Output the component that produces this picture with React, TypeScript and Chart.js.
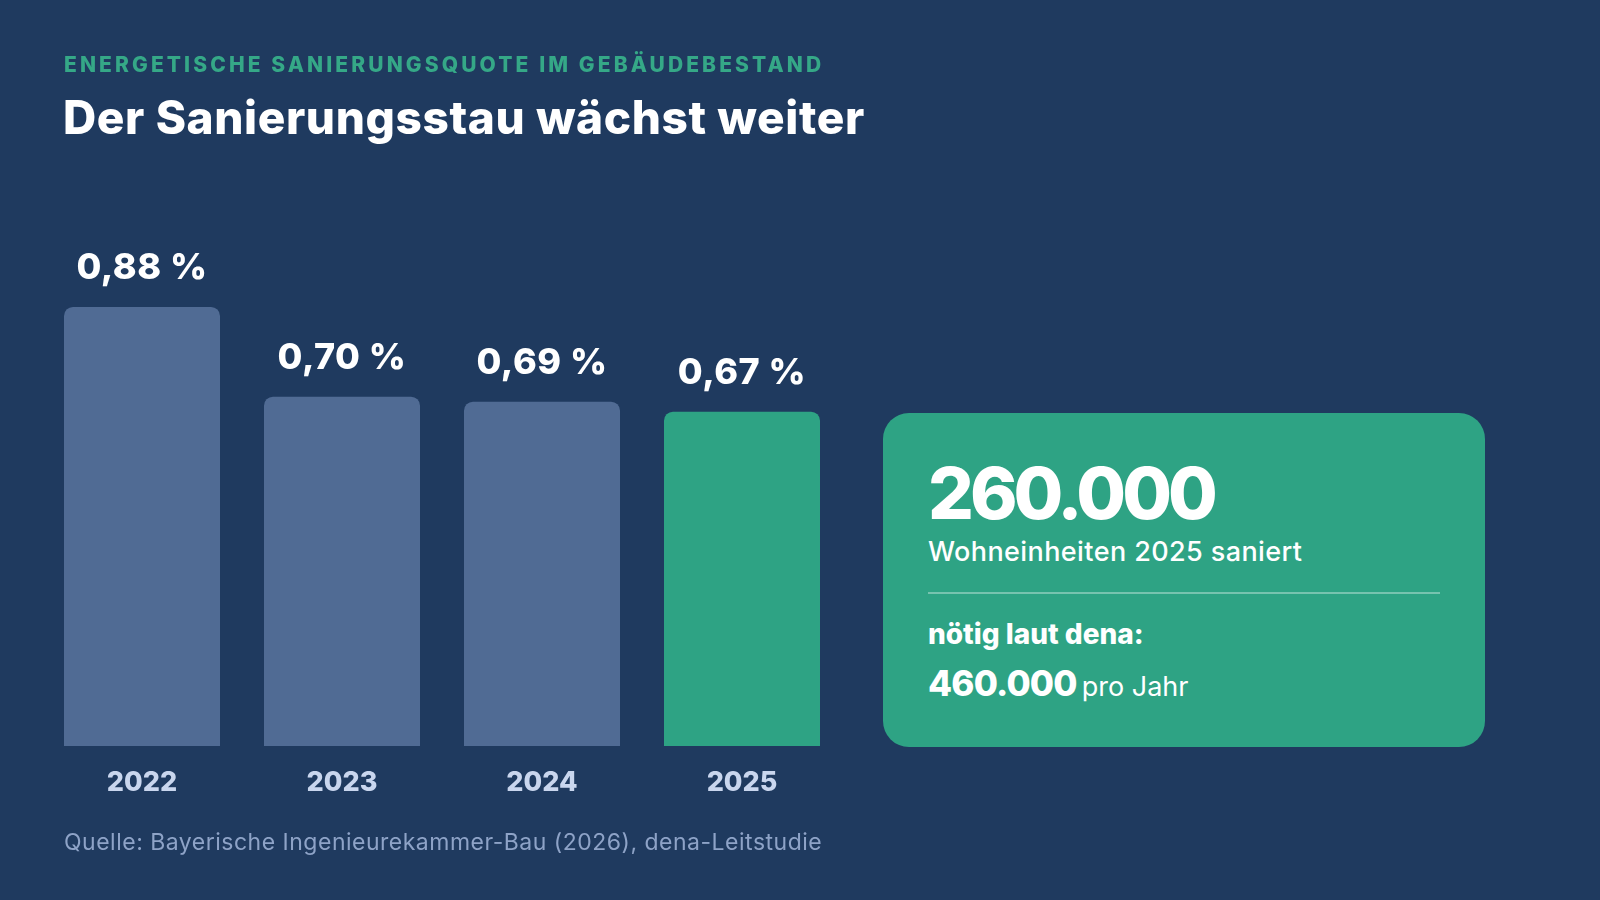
import React, { useEffect, useRef } from "react";
import { Chart, registerables } from "chart.js";

Chart.register(...registerables);

const years = ["2022", "2023", "2024", "2025"];
const quote = [0.88, 0.7, 0.69, 0.67];
const barColors = ["#506b94", "#506b94", "#506b94", "#2ea384"];

const subtitle = "ENERGETISCHE SANIERUNGSQUOTE IM GEBÄUDEBESTAND";
const title = "Der Sanierungsstau wächst weiter";
const source = "Quelle: Bayerische Ingenieurekammer-Bau (2026), dena-Leitstudie";
const cardBig = "260.000";
const cardBigLabel = "Wohneinheiten 2025 saniert";
const cardNeedLabel = "nötig laut dena:";
const cardNeedValue = "460.000";
const cardNeedUnit = "pro Jahr";

const FONT = "Inter, 'Open Sans', sans-serif";

const labelPlugin = {
  id: "labels",
  afterDatasetsDraw(chart: any) {
    const { ctx } = chart;
    const meta = chart.getDatasetMeta(0);
    const xs = chart.scales.x;
    const ys = chart.scales.y;
    ctx.save();
    ctx.textAlign = "center";
    meta.data.forEach((bar: any, i: number) => {
      const x = xs.getPixelForValue(i);
      const top = ys.getPixelForValue(quote[i]);
      ctx.fillStyle = "#ffffff";
      ctx.font = `800 36px ${FONT}`;
      (ctx as any).letterSpacing = "0.5px";
      ctx.textBaseline = "alphabetic";
      ctx.fillText(quote[i].toFixed(2).replace(".", ",") + " %", x, top - 28);
      (ctx as any).letterSpacing = "0px";
      ctx.fillStyle = "#c9d6ee";
      ctx.font = `800 27px ${FONT}`;
      ctx.textBaseline = "middle";
      ctx.fillText(years[i], x, ys.getPixelForValue(0) + 37);
    });
    ctx.restore();
  },
};

export default function App() {
  const ref = useRef<HTMLCanvasElement>(null);
  useEffect(() => {
    document.body.style.margin = "0";
    const chart = new Chart(ref.current!, {
      type: "bar",
      data: {
        labels: years,
        datasets: [
          {
            data: quote,
            backgroundColor: barColors,
            borderRadius: 9,
            categoryPercentage: 1,
            barPercentage: 0.78,
          },
        ],
      },
      options: {
        animation: false,
        responsive: false,
        maintainAspectRatio: false,
        layout: { padding: { left: 42, right: 758, top: 247, bottom: 154 } },
        plugins: { legend: { display: false }, tooltip: { enabled: false } },
        scales: {
          x: { display: false },
          y: { display: false, min: 0, max: 1 },
        },
      },
      plugins: [labelPlugin],
    });
    return () => chart.destroy();
  }, []);

  return (
    <div
      style={{
        position: "relative",
        width: 1600,
        height: 900,
        background: "#1f3a5f",
        overflow: "hidden",
        fontFamily: FONT,
      }}
    >
      <canvas ref={ref} width={1600} height={900} style={{ position: "absolute", left: 0, top: 0 }} />
      <div
        style={{
          position: "absolute",
          left: 64,
          top: 52,
          fontSize: 21,
          fontWeight: 800,
          letterSpacing: 3.1,
          color: "#35a887",
          whiteSpace: "nowrap",
        }}
      >
        {subtitle}
      </div>
      <div
        style={{
          position: "absolute",
          left: 63,
          top: 89,
          fontSize: 46,
          fontWeight: 800,
          letterSpacing: 0.6,
          color: "#ffffff",
          whiteSpace: "nowrap",
        }}
      >
        {title}
      </div>
      <div
        style={{
          position: "absolute",
          left: 64,
          top: 828,
          fontSize: 23,
          fontWeight: 400,
          letterSpacing: 0.5,
          color: "#8ea3c7",
          whiteSpace: "nowrap",
        }}
      >
        {source}
      </div>
      <div
        style={{
          position: "absolute",
          left: 883,
          top: 413,
          width: 602,
          height: 334,
          borderRadius: 26,
          background: "#2ea384",
          color: "#ffffff",
        }}
      >
        <div style={{ position: "absolute", left: 45, top: 40, fontSize: 72, fontWeight: 800, letterSpacing: -4, lineHeight: "80px" }}>
          {cardBig}
        </div>
        <div style={{ position: "absolute", left: 45, top: 122, fontSize: 27, fontWeight: 500, letterSpacing: 0.4, lineHeight: "34px", whiteSpace: "nowrap" }}>
          {cardBigLabel}
        </div>
        <div style={{ position: "absolute", left: 45, top: 179, width: 512, height: 1.5, background: "rgba(255,255,255,0.35)" }} />
        <div style={{ position: "absolute", left: 45, top: 204, fontSize: 28, fontWeight: 800, lineHeight: "34px", letterSpacing: 0, whiteSpace: "nowrap" }}>
          {cardNeedLabel}
        </div>
        <div style={{ position: "absolute", left: 45, top: 248, lineHeight: "44px", whiteSpace: "nowrap" }}>
          <span style={{ fontSize: 35, fontWeight: 800, letterSpacing: -0.8 }}>{cardNeedValue}</span>
          <span style={{ fontSize: 27, fontWeight: 400, marginLeft: 5 }}>{cardNeedUnit}</span>
        </div>
      </div>
    </div>
  );
}
